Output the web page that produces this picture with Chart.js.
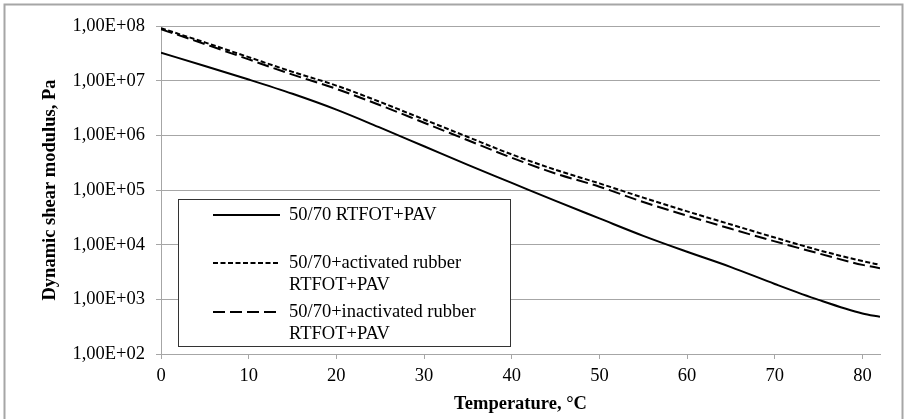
<!DOCTYPE html>
<html>
<head>
<meta charset="utf-8">
<script src="https://cdn.jsdelivr.net/npm/chart.js@4.4.1/dist/chart.umd.min.js"></script>
<style>
  html, body { margin: 0; padding: 0; background: #fff; }
</style>
</head>
<body>
<canvas id="chart" width="908" height="419"></canvas>
<script>
// Temperature, °C
const temps = [0, 5, 10, 15, 20, 25, 30, 35, 40, 45, 50, 55, 60, 65, 70, 75, 80, 82];

// Dynamic shear modulus, Pa
const base5070 = [3.24e7, 1.86e7, 1.05e7, 5.75e6, 2.95e6, 1.38e6, 6.31e5, 2.88e5, 1.35e5,
  6.31e4, 3.02e4, 1.45e4, 7.41e3, 3.89e3, 1.91e3, 9.77e2, 5.50e2, 4.79e2];
const activatedRubber = [9.12e7, 5.01e7, 2.69e7, 1.45e7, 8.13e6, 4.07e6, 1.95e6, 9.33e5, 4.47e5,
  2.34e5, 1.32e5, 7.24e4, 4.07e4, 2.34e4, 1.35e4, 7.94e3, 5.01e3, 4.27e3];
const inactivatedRubber = [8.71e7, 4.68e7, 2.45e7, 1.29e7, 7.08e6, 3.55e6, 1.70e6, 8.13e5, 3.89e5,
  2.00e5, 1.15e5, 6.03e4, 3.39e4, 1.95e4, 1.15e4, 6.92e3, 4.27e3, 3.72e3];

const seriesLabels = [
  ['50/70 RTFOT+PAV'],
  ['50/70+activated rubber', 'RTFOT+PAV'],
  ['50/70+inactivated rubber', 'RTFOT+PAV'],
];

const xTicks = [0, 10, 20, 30, 40, 50, 60, 70, 80];
const yTicks = [1e2, 1e3, 1e4, 1e5, 1e6, 1e7, 1e8];
const yTickLabels = ['1,00E+02', '1,00E+03', '1,00E+04', '1,00E+05', '1,00E+06', '1,00E+07', '1,00E+08'];

const gridGray = '#a6a6a6';
const serif = 'Liberation Serif, Times New Roman, serif';

const toPoints = values => temps.map((t, i) => ({ x: t, y: values[i] }));

// Boxed legend like the spreadsheet one, drawn after the chart
const boxLegend = {
  id: 'boxLegend',
  afterDraw(chart) {
    const { ctx } = chart;
    const box = { left: 178.5, top: 199.5, right: 510.5, bottom: 346.5 };
    const rows = [215, 263, 312];
    ctx.save();
    ctx.fillStyle = '#fff';
    ctx.fillRect(box.left, box.top, box.right - box.left, box.bottom - box.top);
    ctx.strokeStyle = '#333';
    ctx.lineWidth = 1;
    ctx.strokeRect(box.left, box.top, box.right - box.left, box.bottom - box.top);

    chart.data.datasets.forEach((ds, i) => {
      const y = rows[i];
      ctx.beginPath();
      ctx.setLineDash(ds.borderDash || []);
      ctx.strokeStyle = ds.borderColor;
      ctx.lineWidth = ds.borderWidth;
      ctx.moveTo(213, y);
      ctx.lineTo(280, y);
      ctx.stroke();
      ctx.setLineDash([]);
      ctx.fillStyle = '#000';
      ctx.font = `18.5px ${serif}`;
      ctx.textBaseline = 'middle';
      seriesLabels[i].forEach((line, k) => ctx.fillText(line, 289, y + k * 22.5));
    });

    // outer chart frame
    ctx.strokeStyle = gridGray;
    ctx.strokeRect(4.5, 4.5, 898, 420);
    ctx.restore();
  }
};

new Chart(document.getElementById('chart'), {
  type: 'line',
  data: {
    datasets: [
      {
        label: seriesLabels[0].join(' '),
        data: toPoints(base5070),
        borderColor: '#000',
        borderWidth: 2,
      },
      {
        label: seriesLabels[1].join(' '),
        data: toPoints(activatedRubber),
        borderColor: '#000',
        borderWidth: 2,
        borderDash: [5, 2.5],
      },
      {
        label: seriesLabels[2].join(' '),
        data: toPoints(inactivatedRubber),
        borderColor: '#000',
        borderWidth: 2,
        borderDash: [12, 5],
      },
    ]
  },
  options: {
    responsive: false,
    animation: false,
    elements: {
      point: { radius: 0 },
      line: { cubicInterpolationMode: 'monotone', fill: false }
    },
    layout: { padding: { left: 0, right: 28, top: 26, bottom: 0 } },
    plugins: {
      legend: { display: false },
      tooltip: { enabled: false }
    },
    scales: {
      x: {
        type: 'linear',
        min: 0,
        max: 82,
        afterBuildTicks: axis => { axis.ticks = xTicks.map(v => ({ value: v })); },
        afterFit: axis => { axis.height = 65; },
        grid: { drawOnChartArea: false, drawTicks: true, tickLength: 5, color: gridGray },
        border: { color: gridGray },
        ticks: { color: '#000', padding: 6, font: { family: serif, size: 18.5 } },
        title: {
          display: true,
          text: 'Temperature, °C',
          color: '#000',
          padding: { top: 0, bottom: 4 },
          font: { family: serif, size: 18.5, weight: 'bold' }
        }
      },
      y: {
        type: 'logarithmic',
        min: 1e2,
        max: 1e8,
        afterBuildTicks: axis => { axis.ticks = yTicks.map(v => ({ value: v })); },
        afterFit: axis => { axis.width = 161; },
        grid: { color: gridGray, tickLength: 5 },
        border: { color: gridGray },
        ticks: {
          color: '#000',
          padding: 11,
          font: { family: serif, size: 18.5 },
          callback: v => yTickLabels[yTicks.indexOf(v)] ?? ''
        },
        title: {
          display: true,
          text: 'Dynamic shear modulus, Pa',
          color: '#000',
          padding: { top: 39, bottom: 0 },
          font: { family: serif, size: 18.5, weight: 'bold' }
        }
      }
    }
  },
  plugins: [boxLegend]
});
</script>
</body>
</html>
